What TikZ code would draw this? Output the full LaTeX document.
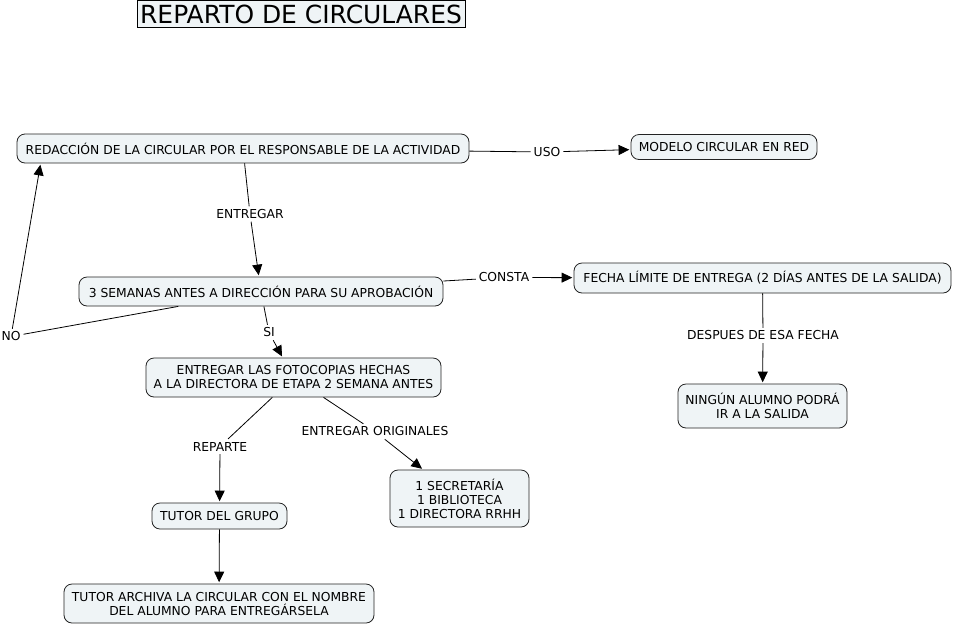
\documentclass[tikz,border=0pt]{standalone}
\usepackage{fontspec}
\setmainfont{DejaVu Sans}
\usetikzlibrary{arrows.meta}
\definecolor{fondocaja}{RGB}{239,244,246}
\definecolor{bordecaja}{RGB}{35,35,35}

\begin{document}
\begin{tikzpicture}[x=0.75pt, y=-0.75pt, line width=0.6pt,
    concepto/.style={draw=bordecaja, fill=fondocaja, rounded corners=6pt,
        align=center, inner sep=0pt, font=\fontsize{9.25}{10.5}\selectfont},
    enlace/.style={inner sep=2pt, font=\fontsize{9.25}{10.5}\selectfont},
    flecha/.style={-{Triangle[length=8pt, width=7.5pt]}, shorten >=1pt}]
    \useasboundingbox (0,0) rectangle (954,626);

    % titulo
    \node[draw=black, fill=fondocaja, inner sep=0pt, minimum width=246pt, minimum height=20.5pt,
        font=\fontsize{18.7}{20}\selectfont] (titulo) at (301,14) {REPARTO DE CIRCULARES};

    % conceptos
    \node[concepto, minimum width=339pt, minimum height=21.75pt] (redaccion) at (243,148.5)
        {REDACCIÓN DE LA CIRCULAR POR EL RESPONSABLE DE LA ACTIVIDAD};
    \node[concepto, minimum width=139.5pt, minimum height=18.75pt] (modelo) at (724,147)
        {MODELO CIRCULAR EN RED};
    \node[concepto, minimum width=273pt, minimum height=21.75pt] (semanas) at (261,291.5)
        {3 SEMANAS ANTES A DIRECCIÓN PARA SU APROBACIÓN};
    \node[concepto, minimum width=282.75pt, minimum height=22.5pt] (fecha) at (762.5,278)
        {FECHA LÍMITE DE ENTREGA (2 DÍAS ANTES DE LA SALIDA)};
    \node[concepto, minimum width=221.25pt, minimum height=29.25pt] (fotocopias) at (293.5,377.5)
        {ENTREGAR LAS FOTOCOPIAS HECHAS\\A LA DIRECTORA DE ETAPA 2 SEMANA ANTES};
    \node[concepto, minimum width=126.75pt, minimum height=33pt] (ningun) at (762.5,406)
        {NINGÚN ALUMNO PODRÁ\\IR A LA SALIDA};
    \node[concepto, minimum width=104.25pt, minimum height=42.75pt] (secretaria) at (459.5,498.5)
        {1 SECRETARÍA\\1 BIBLIOTECA\\1 DIRECTORA RRHH};
    \node[concepto, minimum width=101.25pt, minimum height=19.5pt] (tutor) at (219.5,516)
        {TUTOR DEL GRUPO};
    \node[concepto, minimum width=232.5pt, minimum height=29.25pt] (archiva) at (219,603.5)
        {TUTOR ARCHIVA LA CIRCULAR CON EL NOMBRE\\DEL ALUMNO PARA ENTREGÁRSELA};

    % frases de enlace
    \node[enlace] (uso) at (547,152) {USO};
    \node[enlace] (entregar) at (250,214) {ENTREGAR};
    \node[enlace] (consta) at (504,277.5) {CONSTA};
    \node[enlace] (no) at (11,336.5) {NO};
    \coordinate (noflecha) at ([xshift=18pt]redaccion.south west);
    \node[enlace] (si) at (269,332.5) {SI};
    \node[enlace] (despues) at (763,335.5) {DESPUES DE ESA FECHA};
    \node[enlace] (reparte) at (220,446.5) {REPARTE};
    \node[enlace] (originales) at (375,431.5) {ENTREGAR ORIGINALES};

    % conectores
    \draw (redaccion) -- (uso);
    \draw[flecha] (uso) -- (modelo);
    \draw (redaccion) -- (entregar);
    \draw[flecha] (entregar) -- (semanas);
    \draw (semanas) -- (consta);
    \draw[flecha] (consta) -- (fecha);
    \draw (semanas) -- (no);
    \draw[flecha] (no) -- (noflecha);
    \draw (semanas) -- (si);
    \draw[flecha] (si) -- (fotocopias);
    \draw (fecha) -- (despues);
    \draw[flecha] (despues) -- (ningun);
    \draw (fotocopias) -- (reparte);
    \draw[flecha] (reparte) -- (tutor);
    \draw (fotocopias) -- (originales);
    \draw[flecha] (originales) -- (secretaria);
    \draw[flecha] (tutor) -- (archiva);
\end{tikzpicture}
\end{document}
